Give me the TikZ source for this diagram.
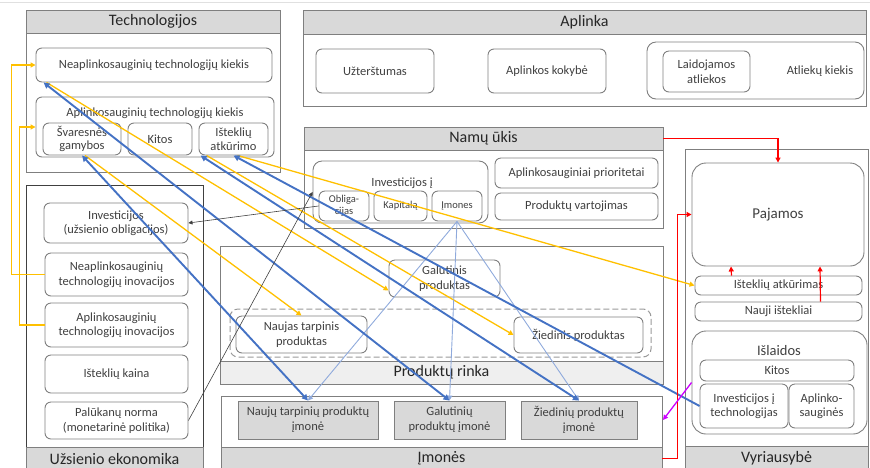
\documentclass[tikz,border=0pt]{standalone}
\usepackage{fontspec}
\setmainfont{Carlito}
\usetikzlibrary{arrows.meta}
\definecolor{cHdr}{HTML}{D9D9D9}
\definecolor{cBand}{HTML}{EFEFEF}
\definecolor{cBord}{HTML}{7F7F7F}
\definecolor{cTxt}{HTML}{404040}
\definecolor{cBlue}{HTML}{4472C4}
\definecolor{cLBlue}{HTML}{8FAADC}
\definecolor{cYel}{HTML}{FFC000}
\definecolor{cMag}{HTML}{CC00FF}
\definecolor{cRed}{HTML}{FF0000}
\newcommand{\mkbox}[7]{%
  \pgfmathsetmacro\mbw{#5-#3}\pgfmathsetmacro\mbh{#6-#4}%
  \node[#2,minimum width=\mbw pt,minimum height=\mbh pt] (#1) at ({(#3+#5)/2},{(#4+#6)/2}) {#7};}
\tikzset{
  rb/.style={draw=cBord, line width=0.9pt, rounded corners=6pt, inner sep=0pt, align=center, text=cTxt, font=\fontsize{12.5}{14.5}\selectfont},
  rbs/.style={rb, font=\fontsize{10.5}{12}\selectfont},
  gb/.style={draw=cBord, line width=0.9pt, fill=cHdr, inner sep=0pt, align=center, text=cTxt, font=\fontsize{12.5}{15}\selectfont},
  hd/.style={draw=cBord, line width=0.9pt, fill=cHdr, inner sep=0pt, text=black!85, font=\fontsize{16}{19}\selectfont},
  outerbox/.style={draw=cBord, line width=0.9pt},
  lab/.style={inner sep=0pt, text=cTxt, font=\fontsize{12.5}{15}\selectfont},
  arr/.style={-{Triangle[length=5pt,width=5pt]}},
  blu/.style={draw=cBlue, line width=1.9pt},
  biarr/.style={{Triangle[length=6pt,width=6pt]}-{Triangle[length=6pt,width=6pt]}},
  yel/.style={draw=cYel, line width=1.3pt},
  lblu/.style={draw=cLBlue, line width=0.9pt},
  blk/.style={draw=black!75, line width=0.6pt},
  rd/.style={draw=cRed, line width=1.2pt},
  mg/.style={draw=cMag, line width=1.3pt},
}
\begin{document}
\begin{tikzpicture}[x=1pt,y=-1pt]
\useasboundingbox (0,0) rectangle (870,467);
\draw[black!12, line width=0.8pt] (0,2.5) -- (870,2.5);

% Technologijos
\draw[outerbox] (26,10) rectangle (280,172);
\mkbox{thead}{hd}{26}{10}{280}{33}{Technologijos}
\mkbox{nk}{rb}{36}{48}{272}{82}{Neaplinkosauginių technologijų kiekis}
\mkbox{ak}{rb}{36}{97}{274}{157}{}
\node[lab] (akl) at (155,113) {Aplinkosauginių technologijų kiekis};
\mkbox{svar}{rb,font=\fontsize{12.5}{13.5}\selectfont}{43}{123}{121}{155}{Švaresnės\\gamybos}
\mkbox{kitos}{rb}{128}{123}{192}{155}{Kitos}
\mkbox{istk}{rb,font=\fontsize{12.5}{13.5}\selectfont}{199}{123}{268}{155}{Išteklių\\atkūrimo}

% Aplinka
\draw[outerbox] (303,10) rectangle (866,106);
\mkbox{ahead}{hd}{303}{10}{866}{34}{Aplinka}
\mkbox{uzt}{rb}{316}{49}{434}{93}{Užterštumas}
\mkbox{akok}{rb}{488}{49}{606}{93}{Aplinkos kokybė}
\mkbox{atl}{rb,rounded corners=9pt}{647}{42}{864}{99}{}
\mkbox{laid}{rb}{663}{51}{750}{92}{Laidojamos\\atliekos}
\node[lab] (atlk) at (820,71) {Atliekų kiekis};

% Namu ukis
\draw[outerbox] (304,127) rectangle (663,228);
\mkbox{nuhead}{hd}{304}{127}{663}{150}{Namų ūkis}
\mkbox{invj}{rb,rounded corners=9pt}{313}{161}{488}{223}{}
\node[lab] (invjl) at (402,183) {Investicijos į};
\mkbox{obl}{rbs}{319}{191}{369}{221}{Obliga-\\cijas}
\mkbox{kap}{rbs}{374}{191}{427}{221}{Kapitalą}
\mkbox{imn}{rbs}{432}{191}{482}{221}{Įmones}
\mkbox{apr}{rb}{495}{158}{658}{188}{Aplinkosauginiai prioritetai}
\mkbox{pvar}{rb}{495}{193}{658}{220}{Produktų vartojimas}

% Produktu rinka
\draw[outerbox] (220,246) rectangle (663,384);
\mkbox{prhead}{hd,fill=cBand}{220}{361}{663}{384}{Produktų rinka}
\draw[draw=cBord!80, line width=1pt, dash pattern=on 6pt off 3pt, rounded corners=8pt] (230,309) rectangle (651,357);
\mkbox{galp}{rb}{389}{260}{500}{297}{Galutinis\\produktas}
\mkbox{ntp}{rb}{236}{316}{367}{353}{Naujas tarpinis\\produktas}
\mkbox{zp}{rb}{514}{317}{643}{353}{Žiedinis produktas}

% Imones
\draw[outerbox] (221,396) rectangle (662,470);
\mkbox{imhead}{hd}{221}{447}{662}{470}{Įmonės}
\mkbox{nim}{gb}{238}{401}{378}{439}{Naujų tarpinių produktų\\įmonė}
\mkbox{gim}{gb}{394}{401}{505}{439}{Galutinių\\produktų įmonė}
\mkbox{zim}{gb}{521}{401}{637}{439}{Žiedinių produktų\\įmonė}

% Uzsienio ekonomika
\draw[outerbox, draw=black!75] (26,185) rectangle (203,470);
\mkbox{uhead}{hd}{26}{447}{203}{470}{Užsienio ekonomika}
\mkbox{invuz}{rb}{44}{203}{188}{243}{Investicijos\\(užsienio obligacijos)}
\mkbox{nti}{rb}{45}{253}{188}{296}{Neaplinkosauginių\\technologijų inovacijos}
\mkbox{ati}{rb}{45}{303}{188}{347}{Aplinkosauginių\\technologijų inovacijos}
\mkbox{ik}{rb}{45}{355}{188}{393}{Išteklių kaina}
\mkbox{pn}{rb}{45}{402}{188}{439}{Palūkanų norma\\(monetarinė politika)}

% Vyriausybe
\draw[outerbox] (685,149) rectangle (868,470);
\mkbox{vhead}{hd}{685}{446}{868}{470}{Vyriausybė}
\mkbox{paj}{rb,rounded corners=14pt,font=\fontsize{15}{18}\selectfont}{692}{163}{864}{266}{Pajamos}
\mkbox{istatk}{rb}{695}{276}{862}{295}{Išteklių atkūrimas}
\mkbox{nauji}{rb}{695}{302}{862}{321}{Nauji ištekliai}
\mkbox{isl}{rb,rounded corners=14pt}{692}{331}{867}{434}{}
\node[lab,font=\fontsize{14.5}{17}\selectfont] (isll) at (779,351) {Išlaidos};
\mkbox{kit2}{rb}{700}{360}{854}{381}{Kitos}
\mkbox{invt}{rb}{700}{384}{788}{428}{Investicijos į\\technologijas}
\mkbox{aps}{rb}{789}{384}{854}{428}{Aplinko-\\sauginės}

% ---------- connectors ----------
% yellow
\draw[yel, arr] (nti.west) -- ++(-33,0) |- (nk.west);
\draw[yel, arr] (ati.west) -- ++(-25,0) |- (ak.west);
\draw[yel, arr] ([xshift=11pt]nk.south west) -- ([yshift=7pt]galp.south west);
\draw[yel, arr] ([xshift=3pt]svar.south) -- (ntp.north);
\draw[yel, arr] ([xshift=8pt]istk.south west) -- (zp.west);
\draw[yel, arr] ([xshift=4pt]istk.south) -- (istatk.west);

% light blue
\draw[lblu, arr] (imn.south) -- (nim.north);
\draw[lblu, arr] (imn.south) -- (gim.north);
\draw[lblu, arr] (imn.south) -- (zim.north);

% blue
\draw[blu, biarr] ([xshift=8pt]nk.south west) -- (gim.north);
\draw[blu, biarr] (svar.south) -- (nim.north);
\draw[blu, biarr] ([xshift=2pt]istk.south west) -- (zim.north);
\draw[blu, {Triangle[length=6pt,width=6pt]}-] (istk.south) -- (invt.west);

% black
\draw[blk, -{Triangle[length=4pt,width=4pt]}] (pn.east) -- (invj.west);
\draw[blk, -{Triangle[length=4pt,width=4pt]}] (obl.west) -- (invuz.east);

% red
\draw[rd, arr] (nuhead.east) -| (paj.north);
\draw[rd, arr] (imhead.east) -- ++(15,0) |- (paj.west);
\draw[rd, arr] ([xshift=-47pt]istatk.north) -- ([xshift=-47pt]paj.south);
\draw[rd, arr] ([xshift=42pt]nauji.north) -- ([xshift=42pt]paj.south);

% magenta
\coordinate (magend) at (663,420);
\draw[mg, arr] (isl.west) -- (magend);
\end{tikzpicture}
\end{document}
